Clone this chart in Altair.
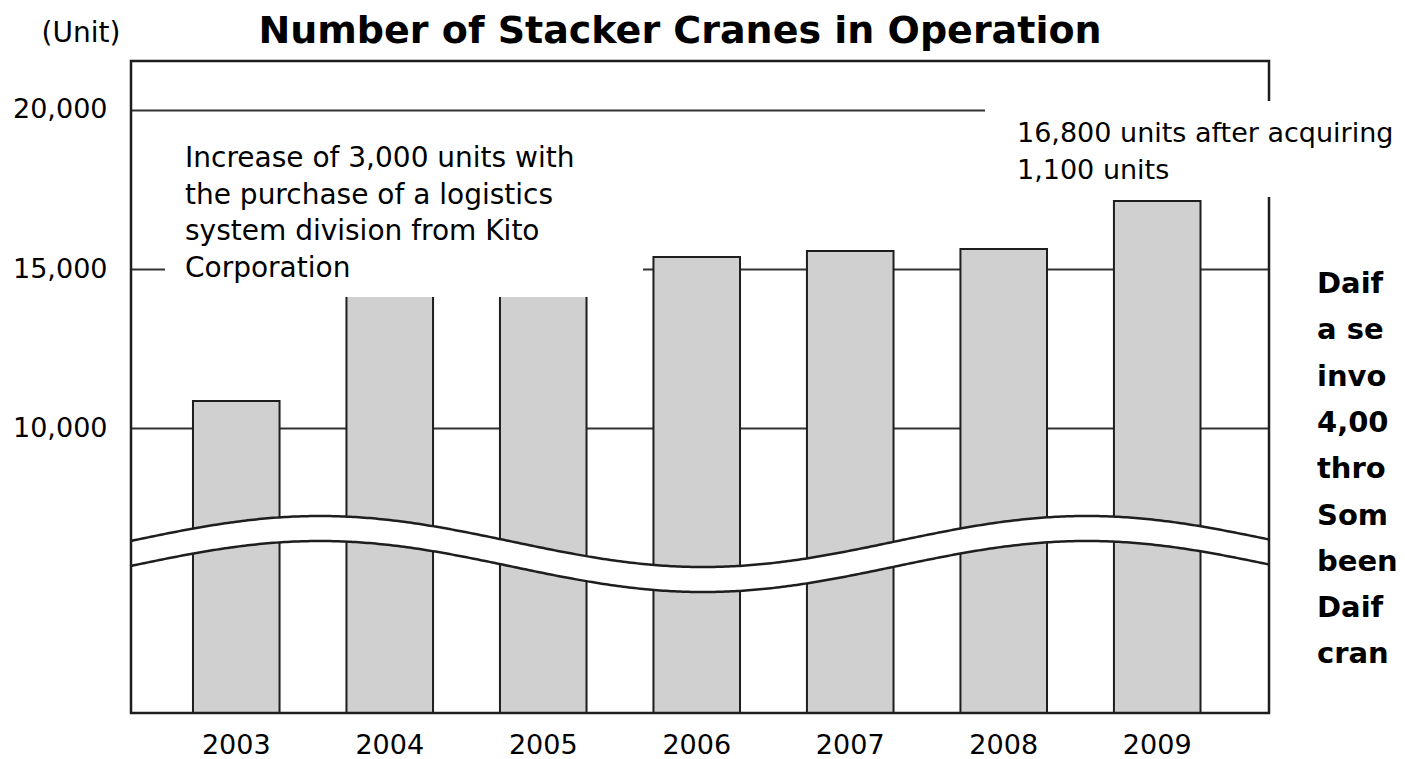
import altair as alt
import pandas as pd

# ---- data ----
years = ["2003", "2004", "2005", "2006", "2007", "2008", "2009"]
units = [10850, 14800, 15200, 15380, 15570, 15630, 17140]
axis_min = 1040
axis_max = 21540
tick_values = [10000, 15000, 20000]

title_text = "Number of Stacker Cranes in Operation"
unit_text = "(Unit)"
note_left = ["Increase of 3,000 units with", "the purchase of a logistics",
             "system division from Kito", "Corporation"]
note_right = ["16,800 units after acquiring", "1,100 units"]
# the reference only shows these fragments of the side text (cut at the picture edge)
side_text = ["Daif", "a se", "invo", "4,00", "thro", "Som", "been", "Daif", "cran"]

# decorative axis-break band (in value units / fraction of plot width)
break_center = 6432
break_amp = 802
break_gap = 786
break_peak = 0.166
break_period = 0.674

FONT = "DejaVu Sans"
W, H = 1138, 652
INK = "#1e1e1e"

df = pd.DataFrame({"year": years, "units": units, "base": [axis_min] * len(years)})
one = pd.DataFrame({"k": [0]})

yscale = alt.Scale(domain=[axis_min, axis_max], nice=False, zero=False)

bars = alt.Chart(df).mark_bar(fill="#d0d0d0", stroke=INK, strokeWidth=2).encode(
    x=alt.X("year:N", sort=years, title=None,
            scale=alt.Scale(paddingInner=0.436, paddingOuter=0.425, align=0.475),
            axis=alt.Axis(labelAngle=0, ticks=False, tickSize=0, domain=False,
                          labelPadding=19, labelFontSize=27, labelFont=FONT,
                          labelColor="black", grid=False)),
    y=alt.Y("units:Q", scale=yscale, title=None,
            axis=alt.Axis(values=tick_values, format=",d", ticks=False, tickSize=0,
                          domain=False, labelPadding=24, labelFontSize=27,
                          labelFont=FONT, labelColor="black", grid=True,
                          gridColor="#333333", gridWidth=2)),
    y2="base:Q",
)

wave_base = alt.Chart(alt.sequence(0, 1.0001, 0.0025, as_="t")).transform_calculate(
    upper=f"{break_center} + {break_amp} * cos(2 * PI * (datum.t - {break_peak}) / {break_period})"
).transform_calculate(
    lower=f"datum.upper - {break_gap}"
)
wx = alt.X("t:Q", scale=alt.Scale(domain=[0, 1], nice=False, zero=False), axis=None)

wave_area = wave_base.mark_area(fill="white", opacity=1).encode(
    x=wx, y=alt.Y("upper:Q", scale=yscale, axis=None), y2="lower:Q")
wave_top = wave_base.mark_line(color=INK, strokeWidth=2.5).encode(
    x=wx, y=alt.Y("upper:Q", scale=yscale, axis=None))
wave_bot = wave_base.mark_line(color=INK, strokeWidth=2.5).encode(
    x=wx, y=alt.Y("lower:Q", scale=yscale, axis=None))

frame = alt.Chart(one).mark_rect(filled=False, stroke=INK, strokeWidth=2.5).encode(
    x=alt.value(0), x2=alt.value(W), y=alt.value(0), y2=alt.value(H))

box_left = alt.Chart(one).mark_rect(fill="white").encode(
    x=alt.value(34), x2=alt.value(512), y=alt.value(61), y2=alt.value(236))
box_right = alt.Chart(one).mark_rect(fill="white").encode(
    x=alt.value(854), x2=alt.value(1280), y=alt.value(40), y2=alt.value(136))

def text_layer(lines, x, y, size, bold=False, align="left", baseline="top", lh=None):
    kw = dict(text=lines, font=FONT, fontSize=size, color="black",
              align=align, baseline=baseline)
    if bold:
        kw["fontWeight"] = "bold"
    if lh is not None:
        kw["lineHeight"] = lh
    return alt.Chart(one).mark_text(**kw).encode(x=alt.value(x), y=alt.value(y))

title = text_layer(title_text, 549, -29, 38, bold=True, align="center", baseline="middle")
unit = text_layer(unit_text, -50, -27, 28, align="center", baseline="middle")
left_txt = text_layer(note_left, 54, 84, 28, lh=36.7)
right_txt = text_layer(note_right, 886, 60, 27, lh=37)
side = text_layer(side_text, 1186, 209, 29, bold=True, lh=46.3)

chart = alt.layer(
    bars, wave_area, wave_top, wave_bot, frame, box_left, box_right,
    left_txt, right_txt, side, title, unit
).resolve_scale(x="independent").resolve_axis(y="independent").properties(
    width=W, height=H,
    padding={"left": 123, "top": 53, "right": 128, "bottom": 46},
    autosize=alt.AutoSizeParams(type="none"),
    background="white",
).configure_view(strokeWidth=0)

chart.save("out.html", embed_options={"renderer": "svg", "actions": False})
